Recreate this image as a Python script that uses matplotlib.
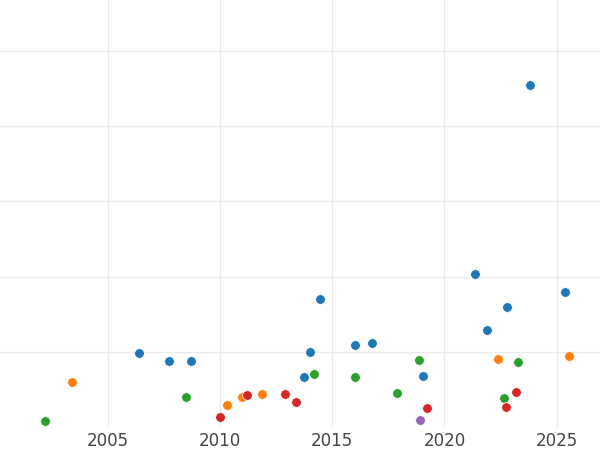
import matplotlib
matplotlib.use("Agg")
import matplotlib.pyplot as plt

# values (x = year, y = arbitrary units, grid every 10)
blue_x = [2006.41, 2007.73, 2008.70, 2013.74, 2014.03, 2014.44, 2016.02, 2016.76,
          2019.05, 2021.36, 2021.91, 2022.80, 2023.80, 2025.38]
blue_y = [9.79, 8.78, 8.78, 6.60, 10.01, 17.06, 10.85, 11.17,
          6.82, 20.39, 12.94, 15.90, 45.43, 17.95]

orange_x = [2003.40, 2010.31, 2011.00, 2011.89, 2022.39, 2025.56]
orange_y = [6.02, 2.87, 3.94, 4.43, 8.99, 9.48]

green_x = [2002.19, 2008.49, 2014.18, 2016.03, 2017.90, 2018.88, 2022.67, 2023.26]
green_y = [0.84, 3.99, 7.05, 6.60, 4.56, 8.86, 3.80, 8.59]

red_x = [2010.02, 2011.21, 2012.91, 2013.40, 2019.24, 2022.74, 2023.19]
red_y = [1.28, 4.26, 4.34, 3.36, 2.53, 2.61, 4.60]

purple_x = [2018.90]
purple_y = [0.97]

xticks = [2005, 2010, 2015, 2020, 2025]
yticks = [10, 20, 30, 40, 50]

fig = plt.figure(figsize=(6, 4.5), dpi=100)
ax = fig.add_axes([0, 23 / 450, 1, 427 / 450])

series = [
    (blue_x, blue_y, "#1f77b4"),
    (orange_x, orange_y, "#ff7f0e"),
    (green_x, green_y, "#2ca02c"),
    (red_x, red_y, "#d62728"),
    (purple_x, purple_y, "#9467bd"),
]
for xs, ys, c in series:
    ax.scatter(xs, ys, s=48, color=c, edgecolor="white", linewidth=0.5, zorder=3)

ax.set_xlim(2000.2, 2026.93)
ax.set_ylim(0, 56.8)
ax.set_xticks(xticks)
ax.set_yticks(yticks)
ax.set_yticklabels([])
ax.grid(True, color="#ebebeb", linewidth=1.0, zorder=0)
ax.set_axisbelow(True)
for sp in ax.spines.values():
    sp.set_visible(False)
ax.tick_params(axis="both", length=0)
ax.tick_params(axis="x", pad=3.5, labelsize=12, labelcolor="#444444")

fig.savefig("out.png", dpi=100)
